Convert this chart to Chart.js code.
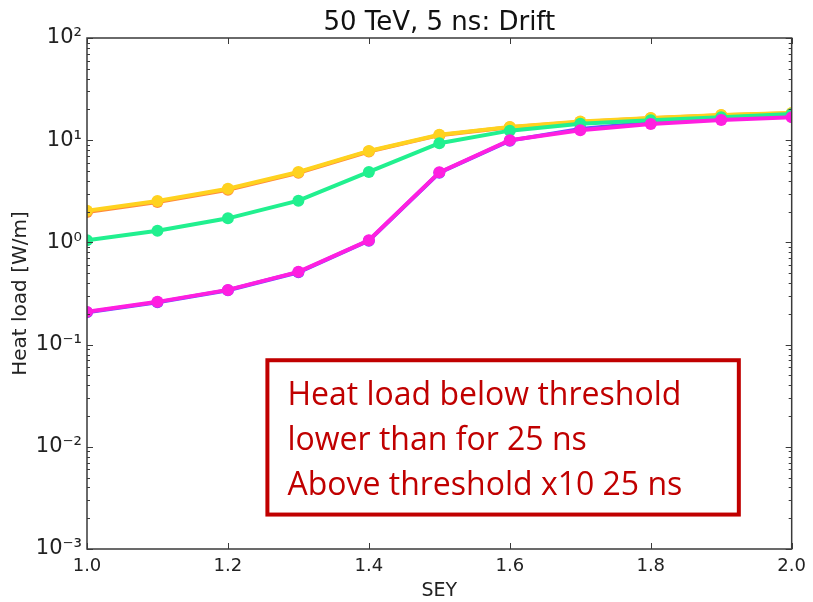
<!DOCTYPE html>
<html>
<head>
<meta charset="utf-8">
<title>Heat load vs SEY</title>
<script src="https://cdn.jsdelivr.net/npm/chart.js@4/dist/chart.umd.min.js"></script>
<style>
    html, body { margin: 0; padding: 0; background: #fff; }
    #wrap { width: 813px; height: 602px; }
</style>
</head>
<body>
<div id="wrap"><canvas id="heatLoadChart" width="813" height="602"></canvas></div>
<script>
// --- Data ---
const seyValues = [1.0, 1.1, 1.2, 1.3, 1.4, 1.5, 1.6, 1.7, 1.8, 1.9, 2.0];

const loadOrange  = [1.98, 2.48, 3.28, 4.80, 7.75, 11.2, 13.4, 15.1, 16.4, 17.5, 18.4];
const loadYellow  = [2.04, 2.54, 3.35, 4.89, 7.85, 11.3, 13.5, 15.2, 16.5, 17.6, 18.5];
const loadGreen   = [1.05, 1.30, 1.72, 2.56, 4.89, 9.34, 12.4, 14.5, 15.7, 16.8, 18.0];
const loadBlue    = [0.207, 0.259, 0.340, 0.510, 1.04, 4.80, 9.9, 12.9, 14.9, 16.2, 17.3];
const loadMagenta = [0.209, 0.262, 0.343, 0.515, 1.05, 4.85, 10.0, 12.5, 14.4, 15.8, 16.8];

const xTicks = [1.0, 1.2, 1.4, 1.6, 1.8, 2.0];
const yTicks = [1e-3, 1e-2, 1e-1, 1e0, 1e1, 1e2];
const yTickLabels = ['10\u207B\u00B3', '10\u207B\u00B2', '10\u207B\u00B9', '10\u2070', '10\u00B9', '10\u00B2'];

const noteLines = ['Heat load below threshold', 'lower than for 25 ns', 'Above threshold x10 25 ns'];

(function() {
    'use strict';

    const AXIS_COLOR = '#3a3a3a';
    const NOTE_RED = '#c00000';

    const toPoints = ys => ys.map((y, i) => ({ x: seyValues[i], y }));

    const lineSet = (label, data, color, order) => ({
        label,
        data: toPoints(data),
        borderColor: color,
        backgroundColor: color,
        pointBackgroundColor: color,
        pointBorderColor: color,
        borderWidth: 4,
        pointRadius: 6,
        pointBorderWidth: 0,
        tension: 0,
        order
    });

    // matplotlib-style frame with inward ticks on all four sides
    const frameTicks = {
        id: 'frameTicks',
        afterDraw(chart) {
            const { ctx, chartArea: a } = chart;
            const xs = chart.scales.x, ys = chart.scales.y;
            ctx.save();
            ctx.strokeStyle = AXIS_COLOR;
            ctx.lineWidth = 1.5;
            ctx.strokeRect(a.left, a.top, a.right - a.left, a.bottom - a.top);

            ctx.lineWidth = 1;
            ctx.beginPath();
            xTicks.forEach(v => {
                const px = Math.round(xs.getPixelForValue(v)) + 0.5;
                ctx.moveTo(px, a.bottom); ctx.lineTo(px, a.bottom - 6);
                ctx.moveTo(px, a.top); ctx.lineTo(px, a.top + 6);
            });
            for (let e = -3; e <= 2; e++) {
                for (let k = 1; k <= 9; k++) {
                    const v = k * Math.pow(10, e);
                    if (v > 100) break;
                    const len = k === 1 ? 6 : 3;
                    const py = Math.round(ys.getPixelForValue(v)) + 0.5;
                    ctx.moveTo(a.left, py); ctx.lineTo(a.left + len, py);
                    ctx.moveTo(a.right, py); ctx.lineTo(a.right - len, py);
                }
            }
            ctx.stroke();
            ctx.restore();
        }
    };

    // boxed red note in the lower right of the plot
    const noteBox = {
        id: 'noteBox',
        afterDraw(chart) {
            const { ctx } = chart;
            const xs = chart.scales.x, ys = chart.scales.y;
            const left = xs.getPixelForValue(1.256);
            const right = xs.getPixelForValue(1.925);
            const top = ys.getPixelForValue(Math.pow(10, -1.153));
            const bottom = ys.getPixelForValue(Math.pow(10, -2.663));
            ctx.save();
            ctx.fillStyle = '#fff';
            ctx.fillRect(left, top, right - left, bottom - top);
            ctx.strokeStyle = NOTE_RED;
            ctx.lineWidth = 4;
            ctx.strokeRect(left, top, right - left, bottom - top);
            ctx.fillStyle = NOTE_RED;
            ctx.font = '32px "Open Sans"';
            ctx.textBaseline = 'alphabetic';
            ctx.textAlign = 'left';
            noteLines.forEach((line, i) => {
                ctx.fillText(line, left + 20, top + 45 + i * 45);
            });
            ctx.restore();
        }
    };

    const ctx = document.getElementById('heatLoadChart').getContext('2d');
    new Chart(ctx, {
        type: 'line',
        data: {
            datasets: [
                lineSet('orange', loadOrange, '#ff8a3c', 6),
                lineSet('yellow', loadYellow, '#ffd21f', 5),
                lineSet('blue', loadBlue, '#6a4dff', 4),
                lineSet('green', loadGreen, '#21f08f', 3),
                lineSet('magenta', loadMagenta, '#ff1fe0', 2)
            ]
        },
        options: {
            responsive: false,
            animation: false,
            layout: { padding: { left: 0, right: 18, top: 0, bottom: 0 } },
            plugins: {
                legend: { display: false },
                tooltip: { enabled: false },
                title: {
                    display: true,
                    fullSize: false,
                    text: '50 TeV, 5 ns: Drift',
                    color: '#111',
                    font: { family: 'DejaVu Sans', size: 26, weight: 'normal', lineHeight: 1.0 },
                    padding: { top: 10, bottom: 2 }
                }
            },
            scales: {
                x: {
                    type: 'linear',
                    min: 1.0,
                    max: 2.0,
                    afterBuildTicks: s => { s.ticks = xTicks.map(v => ({ value: v })); },
                    afterFit: s => { s.height = 53; },
                    grid: { display: false, drawTicks: false },
                    border: { display: false },
                    ticks: {
                        color: '#222',
                        padding: 7,
                        maxRotation: 0,
                        font: { family: 'DejaVu Sans', size: 18 },
                        callback: v => v.toFixed(1)
                    },
                    title: {
                        display: true,
                        text: 'SEY',
                        color: '#222',
                        font: { family: 'DejaVu Sans', size: 19 },
                        padding: { top: 1, bottom: 0 }
                    }
                },
                y: {
                    type: 'logarithmic',
                    min: 1e-3,
                    max: 1e2,
                    afterBuildTicks: s => { s.ticks = yTicks.map(v => ({ value: v })); },
                    afterFit: s => { s.width = 87; },
                    grid: { display: false, drawTicks: false },
                    border: { display: false },
                    ticks: {
                        color: '#222',
                        padding: 5,
                        font: { family: 'DejaVu Sans', size: 21 },
                        callback: (v, i) => yTickLabels[i]
                    },
                    title: {
                        display: true,
                        text: 'Heat load [W/m]',
                        color: '#222',
                        font: { family: 'DejaVu Sans', size: 20 },
                        padding: { top: 9, bottom: 4 }
                    }
                }
            }
        },
        plugins: [frameTicks, noteBox]
    });
})();
</script>
</body>
</html>
